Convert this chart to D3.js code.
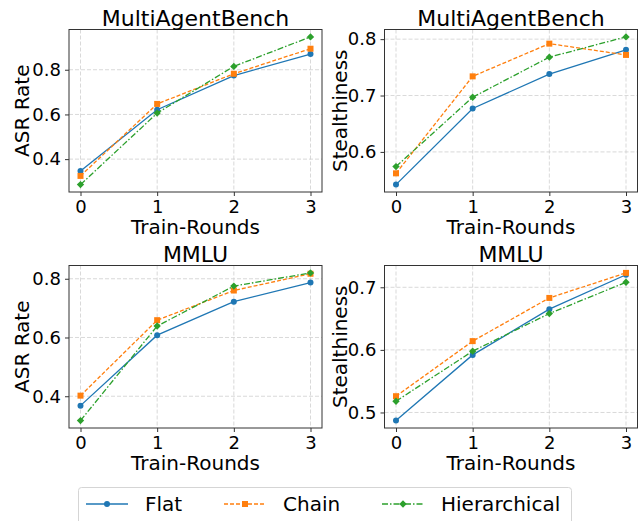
<!DOCTYPE html>
<html>
<head>
<meta charset="utf-8">
<script src="https://cdn.jsdelivr.net/npm/d3@7"></script>
<style>
  body { margin: 0; background: #fff; }
  svg { display: block; font-family: "DejaVu Sans", sans-serif; }
  .grid line { stroke: #cfcfcf; stroke-width: 0.8; stroke-dasharray: 4,2; }
  .tick text { fill: #000; }
</style>
</head>
<body>
<svg width="644" height="521"></svg>
<script>
var rounds = [0, 1, 2, 3];
var seriesNames = ["Flat", "Chain", "Hierarchical"];

// [Flat, Chain, Hierarchical] per panel
var mabAsr = [
    [0.347, 0.621, 0.774, 0.870],
    [0.325, 0.647, 0.782, 0.894],
    [0.286, 0.606, 0.815, 0.947]
];
var mabStealth = [
    [0.542, 0.677, 0.738, 0.781],
    [0.562, 0.734, 0.792, 0.772],
    [0.574, 0.697, 0.768, 0.804]
];
var mmluAsr = [
    [0.368, 0.608, 0.722, 0.787],
    [0.402, 0.659, 0.760, 0.817],
    [0.317, 0.639, 0.775, 0.820]
];
var mmluStealth = [
    [0.487, 0.592, 0.665, 0.720],
    [0.526, 0.614, 0.683, 0.723],
    [0.518, 0.598, 0.658, 0.708]
];

var ticksAsrMab = [0.4, 0.6, 0.8];
var ticksStealthMab = [0.6, 0.7, 0.8];
var ticksAsrMmlu = [0.4, 0.6, 0.8];
var ticksStealthMmlu = [0.5, 0.6, 0.7];

var colors = ["#1f77b4", "#ff7f0e", "#2ca02c"];
var dashes = [null, "4,2", "6,2,1.5,2"];
var markers = ["circle", "square", "diamond"];

var svg = d3.select("svg");

var cols = [[69, 322], [384.5, 637.5]],
    rows = [[29.5, 192], [265.5, 428]];

var panels = [
    {title: "MultiAgentBench", ylabel: "ASR Rate", data: mabAsr, ticks: ticksAsrMab, c: 0, r: 0},
    {title: "MultiAgentBench", ylabel: "Stealthiness", data: mabStealth, ticks: ticksStealthMab, c: 1, r: 0},
    {title: "MMLU", ylabel: "ASR Rate", data: mmluAsr, ticks: ticksAsrMmlu, c: 0, r: 1},
    {title: "MMLU", ylabel: "Stealthiness", data: mmluStealth, ticks: ticksStealthMmlu, c: 1, r: 1}
];

function drawMarker(sel, type, color) {
    if (type === "circle") {
        sel.append("circle").attr("r", 3).attr("fill", color);
    } else if (type === "square") {
        sel.append("rect").attr("x", -3).attr("y", -3).attr("width", 6).attr("height", 6).attr("fill", color);
    } else {
        sel.append("rect").attr("x", -2.6).attr("y", -2.6).attr("width", 5.2).attr("height", 5.2)
            .attr("transform", "rotate(45)").attr("fill", color);
    }
}

panels.forEach(function (p) {
    var x0 = cols[p.c][0], x1 = cols[p.c][1],
        y0 = rows[p.r][0], y1 = rows[p.r][1];

    // matplotlib style 5% margins
    var all = d3.merge(p.data),
        ext = d3.extent(all),
        pad = (ext[1] - ext[0]) * 0.05;

    var x = d3.scaleLinear().domain([-0.15, 3.15]).range([x0, x1]);
    var y = d3.scaleLinear().domain([ext[0] - pad, ext[1] + pad]).range([y1, y0]);

    var g = svg.append("g");

    // grid
    var grid = g.append("g").attr("class", "grid");
    grid.selectAll(".gx").data(rounds).enter().append("line")
        .attr("x1", function (d) { return x(d); }).attr("x2", function (d) { return x(d); })
        .attr("y1", y0).attr("y2", y1);
    grid.selectAll(".gy").data(p.ticks).enter().append("line")
        .attr("y1", function (d) { return y(d); }).attr("y2", function (d) { return y(d); })
        .attr("x1", x0).attr("x2", x1);

    // axes
    var xAxis = g.append("g")
        .attr("transform", "translate(0," + y1 + ")")
        .call(d3.axisBottom(x).tickValues(rounds).tickFormat(d3.format("d")).tickSize(4).tickPadding(4));
    var yAxis = g.append("g")
        .attr("transform", "translate(" + x0 + ",0)")
        .call(d3.axisLeft(y).tickValues(p.ticks).tickFormat(d3.format(".1f")).tickSize(4).tickPadding(4));
    [xAxis, yAxis].forEach(function (a) {
        a.select(".domain").remove();
        a.selectAll(".tick line").attr("stroke", "#333");
        a.selectAll(".tick text").attr("font-size", 18).attr("font-family", "DejaVu Sans");
    });

    // frame
    g.append("rect")
        .attr("x", x0).attr("y", y0).attr("width", x1 - x0).attr("height", y1 - y0)
        .attr("fill", "none").attr("stroke", "#333").attr("stroke-width", 1);

    // series
    var line = d3.line()
        .x(function (d, i) { return x(rounds[i]); })
        .y(function (d) { return y(d); });

    p.data.forEach(function (vals, s) {
        g.append("path")
            .datum(vals)
            .attr("d", line)
            .attr("fill", "none")
            .attr("stroke", colors[s])
            .attr("stroke-width", 1.3)
            .attr("stroke-dasharray", dashes[s]);
        g.selectAll(".m" + s).data(vals).enter().append("g")
            .attr("transform", function (d, i) { return "translate(" + x(rounds[i]) + "," + y(d) + ")"; })
            .each(function () { drawMarker(d3.select(this), markers[s], colors[s]); });
    });

    // texts
    g.append("text")
        .attr("x", (x0 + x1) / 2).attr("y", y0 - 4)
        .attr("text-anchor", "middle").attr("font-size", 22)
        .text(p.title);
    g.append("text")
        .attr("x", (x0 + x1) / 2).attr("y", y1 + 42)
        .attr("text-anchor", "middle").attr("font-size", 20)
        .text("Train-Rounds");
    var lx = p.c === 0 ? 29 : 347;
    g.append("text")
        .attr("transform", "translate(" + lx + "," + ((y0 + y1) / 2) + ") rotate(-90)")
        .attr("text-anchor", "middle").attr("font-size", 20)
        .text(p.ylabel);
});

// legend
var legend = svg.append("g");
legend.append("rect")
    .attr("x", 78.5).attr("y", 487.5).attr("width", 493).attr("height", 46)
    .attr("rx", 3).attr("fill", "#fff").attr("stroke", "#d5d5d5");

var legendX = [86, 224, 382];
seriesNames.forEach(function (name, s) {
    var it = legend.append("g").attr("transform", "translate(" + legendX[s] + ",504)");
    it.append("line")
        .attr("x1", 0).attr("x2", 42)
        .attr("stroke", colors[s]).attr("stroke-width", 1.3)
        .attr("stroke-dasharray", dashes[s]);
    var m = it.append("g").attr("transform", "translate(21,0)");
    drawMarker(m, markers[s], colors[s]);
    it.append("text")
        .attr("x", 59).attr("y", 7)
        .attr("font-size", 20)
        .text(name);
});
</script>
</body>
</html>
